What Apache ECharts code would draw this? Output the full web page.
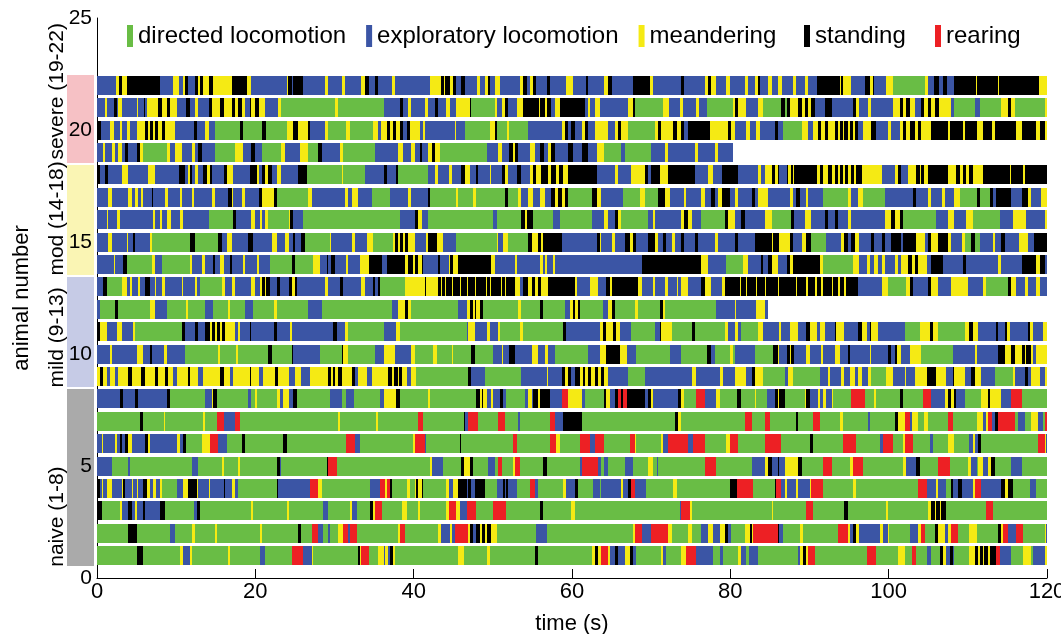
<!DOCTYPE html>
<html>
<head>
<meta charset="utf-8">
<title>Ethogram</title>
<script src="https://cdn.jsdelivr.net/npm/echarts@6/dist/echarts.min.js"></script>
<style>
  html, body { margin: 0; padding: 0; background: #fff; }
  #chart { width: 1061px; height: 634px; }
</style>
</head>
<body>
<div id="chart"></div>
<script>
// Behaviour categories, in legend order, with their one-letter codes used below.
const behaviours = ['directed locomotion', 'exploratory locomotion', 'meandering', 'standing', 'rearing'];
const behaviourCodes = ['g', 'b', 'y', 'k', 'r'];
const behaviourColors = ['#69bd45', '#3b55a5', '#f5ea14', '#000000', '#ed2024'];

// Each trial: "<code><start time in s>" tokens, closed by "e<end time>".
const naive = [
  // animal 1
  "g0 k5 g5.85 y10.5 b10.9 y11.75 g11.95 y16.6 g16.8 b20.6 g21.2 r24.6 b26.05 y27.1 g27.3 k33 y33.2 r33.4 g34.3 y35.5 b36.2 y36.4 b36.8 k37 y37.4 g37.6 y45.6 g46.3 y49.2 g49.6 k55.3 g55.7 y62.5 k62.9 y63.3 r63.7 y64.6 b64.8 k65.4 b65.8 y66.7 k67.3 b67.7 g68.1 y71.3 b71.5 g71.9 y73.8 r74.45 b75.7 g77.8 b78.7 g79.1 y81 b81.3 g82 b82.3 g83.5 b88.6 y88.8 k89.2 y89.6 r89.8 g90.7 r97.2 g98.45 y101.2 g102 r102.9 g103.5 b104.8 g105.4 k106.45 y106.9 b107.3 k107.7 b108.1 g108.3 y110.2 k110.9 y111.3 k111.5 y111.9 k112.1 y112.6 k112.8 r113.6 b114 g115.5 y117 g118 b118.2 y119.7 e120",
  // animal 2
  "g0 k3.95 g5 b9.2 g9.85 y11.95 g12.4 y14.9 g15.1 y20.6 g20.8 k25.4 g25.8 r27.1 b27.95 g28.6 b29.2 g29.4 y30.5 r31.1 b31.7 r31.95 g32.8 y38.05 r38.3 g38.9 y43.1 b43.5 y44.6 b44.8 r45.2 y46.9 k47.1 b47.5 k47.9 y48.4 k48.6 y49 k49.2 y49.8 g50.5 b55.5 g56.8 y67.7 r67.9 b68.8 r70 y72.1 g72.6 y74.7 g75.1 b76.35 y77.2 b77.8 y78.7 k79.3 b79.7 g80.1 y81.8 k82.45 y82.7 r82.9 k86 b86.2 g86.7 y88.8 g89.2 r93.6 y94.9 b95.1 k95.5 y95.9 b96.3 y98.9 b99.3 y99.9 g100.1 b102.7 y103.7 r104.1 g104.6 k105.8 y106.2 b107.1 y107.5 r107.9 g108.8 y110.2 g111.1 k113.8 y114.2 r114.4 b115.1 r116.1 g117 y119.7 b119.85 e120",
  // animal 3
  "k0 g0.6 y2.9 b3.1 k3.95 b4.4 y4.8 b5 k5.85 b6.1 k7.95 g8.6 b12.2 k12.6 g13 y19.5 g19.7 y23.95 g24.2 b28.6 g29.2 y31.95 b32.2 g32.8 k34.5 y34.9 r35.1 g35.95 y38.5 g39.1 y40.6 g40.8 y44.1 r44.4 y45.4 b45.8 r46.7 g47.9 r50 g51.7 k55.9 g56.35 y59.9 g60.35 b73.6 r73.8 y74.9 g75.1 y85.2 g85.4 r89.6 g90.45 k94.4 g94.9 y99.7 g99.9 y105 k105.4 y105.8 k106 y106.45 k106.65 g107.3 r112.3 g113.2 e120",
  // animal 4
  "k0 b0.4 y0.6 b0.8 y1.2 b1.85 y3.1 k3.3 b3.5 y4.4 b4.6 y5 b5.2 k5.85 y6.3 b6.7 y7.1 b7.5 y7.95 g8.2 b10.1 y10.9 k11.5 y12.6 b12.8 y14.1 b14.3 k16 b16.2 y17 b17.4 g17.85 k22.7 b22.9 r26.9 y27.95 g28.4 b34.5 r35.7 y36.4 r36.6 k37 g37.2 y39.1 g39.5 y40.2 k40.35 y40.6 k41 g41.2 y44.1 b44.4 y45 k45.6 b46.7 k46.9 b47.3 k47.7 g49 b50.5 k51.3 b51.5 k51.7 b51.9 g53 r54.7 b55.3 g55.7 y58.9 b59.3 k60.35 g60.8 b62.7 g63.5 b63.7 y66.2 b66.45 k67.1 r67.5 b67.9 g69.4 y72.8 g73.2 k79.9 r80.8 g82.9 k85.6 r85.8 b86.45 y86.9 b87.1 y88.3 b88.6 y90 r90.2 g91.7 y95.5 g95.9 r103.7 b104.8 y106 b106.2 g107.3 k107.9 b108.1 k108.8 b109.2 y110.65 r110.9 b111.7 k114.2 y114.65 k115.1 g115.7 b117.8 g118.65 e120",
  // animal 5
  "b0 g1.85 b3.95 g4.2 b11.95 g12.8 y15.75 g16 y17.85 g18.1 k22.7 b23.1 g23.3 k29 r29.2 g30.3 y42 b42.3 g43.7 k46 y46.3 k47.1 g47.5 b49.4 g50.3 r50.7 g51.1 y52.6 r52.8 g53.4 k56.35 g56.8 b61 r61.2 b63.3 g63.7 b64.1 g64.6 b66.7 g67.7 y69.6 g70.2 b70.7 g70.9 r76.8 g78.2 b82.7 y84.35 k84.8 b85.2 k86 b86.2 y86.9 k88.6 g89 r91.7 g92.8 y95.1 r95.5 g96.8 y101.8 b102.2 k103.5 g103.9 r106.2 g107.7 y110 b110.4 g111.1 y111.3 b111.9 y112.55 k112.9 g113.4 b115.5 g116.8 e120",
  // animal 6
  "b0 y0.6 b0.8 y2.3 b2.5 k2.9 b3.1 k3.5 y3.95 b4.4 k6.1 y6.5 b6.7 y10.1 b10.5 k10.9 g11.3 y13.2 r14.3 b15.3 g16.4 k18.3 g18.7 k23.5 g23.95 r31.5 b32.6 g33.2 y39.95 r40.2 b41.4 g41.6 k45.8 g46 r52.6 g53 r57.2 y58 g58.5 r61 b62.25 r62.9 g64.1 r67.3 y67.9 g68.1 y71.3 b71.5 r72.1 b74.7 r75.3 g76.8 y79.5 r79.9 g81 r84.35 g86.45 k90 g90.45 r94.2 g95.9 b98.9 r99.3 g100.6 y101.8 r102 g103.1 b105.2 g105.6 y107.5 g108.3 b110.2 y110.65 b110.9 k111.3 g111.7 r118.9 y119.7 b119.85 e120",
  // animal 7
  "g0 k5.4 g5.85 y8.4 g8.6 y13.4 g13.6 r15.1 b16 r17.4 g18.1 y30.5 g30.7 y35.3 g35.5 r40.6 g41.2 k46.3 b46.5 r46.9 g48.15 r50.7 g51.5 b53.2 g53.4 r57.2 b57.8 k58.9 g61.2 k73 y73.4 g73.8 r81.8 g82.7 r84.4 g85 k88.3 g88.6 r90.45 g91.3 y93.8 g94.2 b97.4 g97.6 k100.8 y101.2 r102 b102.65 y102.9 g103.7 y104.4 g105 r107.5 g108.1 y111.1 b111.9 y112.3 r112.55 b113 k113.4 r113.8 g115.9 b116.3 g117.2 y118 b118.9 g119.5 r119.8 e120",
  // animal 8
  "b0 k2.9 b3.3 k4.8 b5.2 k8.8 g9.2 b13.6 y14.5 k14.7 g15.1 b19.1 g19.5 y19.95 g20.2 y22.7 b23.1 y23.5 b24.2 k24.8 g25.2 b29.4 g30.9 b31.4 g32.4 b35.7 y36.2 k37.8 g38.3 y41.8 g42 k47.9 y48.4 k48.6 y48.8 b49.2 y49.8 b50 k50.9 b51.3 g51.7 b54 y54.5 b54.9 k55.1 y55.7 k55.9 b57.2 r58.7 y59.5 b61.2 g61.6 k64.1 y64.35 b64.8 k65.4 r65.8 k66.2 r66.45 k66.9 b69.2 k69.6 y70 b70.2 k73.4 y73.8 g74.2 r75.7 b76.8 y78.2 g78.7 k80.8 g81.4 y83.1 g83.3 b84.6 k85.6 y86 k86.2 g86.9 y89.4 k89.6 b90 y91.1 b91.3 y91.7 b92.1 y92.8 g93 r95.3 g97 y98.2 g98.4 k101.4 g101.8 r104.3 b105.4 y107.1 k107.5 y107.9 k108.3 b108.5 g109.6 y111.7 k112.5 y112.8 b114.2 r115.5 g116.8 e120"
];

const mild = [
  // animal 9
  "y0 k0.4 y0.8 b1.2 y1.6 b2.3 y2.7 k3.95 y4.4 k5.6 y6.1 k7.3 y7.75 k8.6 y9 b9.6 y10.1 k11.5 y11.75 b12.8 y13.4 k15.5 y16 b16.8 y17.2 k19.3 y19.5 b20.4 y21 k22.5 y22.9 b24.2 y25 b25.8 y26.9 k29.2 y29.5 k29.8 y30.1 k30.4 y30.9 k32.2 b32.6 y33 b34.05 y34.7 k36.8 y37.3 k37.5 y38 k38.2 y38.5 b39.1 y39.7 g40.35 k46.9 b47.3 g49 b53.6 y56.8 b57 k58.7 y59.1 k59.5 b59.9 k60.35 y61 k61.4 y61.6 k62 y62.45 k62.9 y63.3 k63.7 y64.1 b64.6 g67.1 b69.2 y75.1 b75.7 y78.7 b79.1 y80.6 b82 k82.7 y83.1 g84.1 b86.9 y87.3 g87.9 b91.3 y92.3 b92.6 y94 b94.4 y95.1 b95.7 y96.1 b96.6 y97.4 g97.8 y99.7 b100.6 y102 b102.2 y103.3 k104.8 y106 b107.3 k108.1 y108.3 b109.6 k110.4 y110.9 b111.7 g113.4 y115.7 b115.9 k117.2 b117.6 y118 b119.1 y119.7 e120",
  // animal 10
  "b0 y1.6 b1.85 y5 b5.85 k6.7 b6.9 y8.4 b8.8 g11.1 y15.3 g15.5 y17.6 g17.85 k21.6 g22.1 k24.6 b24.8 g28.2 k30.9 y31.1 g31.7 b35.1 y36.2 b37.6 y39.7 g40.2 y42.5 g42.9 y44.8 g45 k47.3 g47.7 b50 y51.1 b51.3 k52.1 b52.8 y54.9 b55.7 y56.6 b57 g57.8 b62 y63.5 k64.35 y66 b66.9 g68.1 b72.35 g73.8 k77 b77.6 g78 y79.9 g80.3 b80.6 g83.1 k85.4 y86 b86.2 k87.1 y87.5 k87.7 b88.1 y89.6 b90 y91.5 b91.7 y93.2 b93.8 k94.9 b95.1 y97.6 b97.8 k99.9 b100.3 k100.8 y101 b101.6 y102.7 g104.1 b108.1 y110.9 b111.1 k113.8 y114.65 k115.5 y115.9 k116.8 y117.2 k117.4 y118 b118.2 y118.65 e120",
  // animal 11
  "k0 y0.4 b1.2 y2.5 b3.1 y4.6 g4.8 k10.7 b11.1 k12.4 b12.8 k13.6 y14.3 k14.5 y14.9 k15.1 y15.5 k15.75 y16.2 b17.4 y17.85 b18.1 k19.3 b19.5 k22.3 b22.7 y24.4 b24.6 k29.8 b30.3 y31.3 g31.7 b36.2 y37.8 g38.3 b46.7 y46.9 b47.7 y49.2 b49.6 y50.7 g50.9 y53.4 g53.8 k58.9 b59.3 y63.5 k63.9 y64.35 k65.2 y65.6 b66 g67.5 b70.45 k71.1 y71.3 g72.6 k75.1 g75.5 y79.3 b79.7 y80.6 b81 g81.4 y83.5 b84.1 y86.2 b86.45 y87.5 b88.6 k89.6 y90 b90.9 y91.3 b91.9 k93.2 y93.4 b94.4 k96.1 y96.6 b97.2 k97.6 y97.8 b98.7 g102 y103.9 k105.2 y105.6 g106.2 y109.6 k110.2 y110.65 b111.3 k113.6 b113.8 k114.7 y114.9 b115.3 k117.6 y117.8 b118.2 y119.5 e120",
  // animal 12
  "b0 g0.4 k2.3 g2.7 y6.7 b7.3 g8.8 y11.3 g11.5 b13.6 g14.7 y16.6 g16.8 b18.7 g19.7 y22.3 g22.7 b26.7 g28.4 b37.2 y38 k38.9 y39.3 g39.7 b45.6 y46.7 k47.1 y47.5 k47.7 y47.9 k48.4 g48.8 y53.2 g53.6 k55.9 g56.35 b59.1 y59.7 k60.1 y60.35 k60.8 g61 b63.9 y64.6 k65 g65.4 y67.9 g68.35 k71.1 y71.5 g71.7 b78.2 y80.55 b80.7 y83.3 b84.35 e84.8",
  // animal 13
  "b0 k0.8 g1.2 y3.1 b3.75 y4.2 b4.4 y5.2 b5.4 k6.1 b6.7 y7.3 b7.5 y8.2 b8.6 y10.7 b10.9 y12.4 b12.6 g13 y15.75 b16.2 y17 b17.4 y19.5 b19.95 y20.6 k20.8 y21.2 k21.4 b21.85 k22.7 b23.1 k24.2 y24.6 k25 b25.2 y28.8 b29.2 k30.7 b31.1 y33.4 b33.8 k34.9 b35.1 k35.5 g35.7 y38.9 k41.4 y41.6 k43.1 y43.45 k43.6 y43.9 k44.05 y44.4 k44.5 y44.85 k45 y45.3 k45.4 y45.8 k45.95 y46.3 k46.4 y46.75 k46.9 y47.2 k47.3 y47.7 k47.85 y48.2 k48.3 y48.7 k48.8 y49.15 k49.3 y49.6 k49.75 y50.1 k50.2 y50.6 k50.7 y51.05 k51.2 y51.5 k51.65 y52 k52.1 y52.8 b53.4 k53.8 y54.5 k54.9 y55.3 k55.7 y56.1 k57 y60.35 b60.6 y62.25 b63.3 k64.35 y64.8 k65 y68.35 b68.8 y70.2 b70.45 y71.7 b72.1 y73.2 b73.4 y73.8 b74.7 k76.35 y76.8 b77.6 y78.9 k79.3 y81.2 k81.3 y82 k82.1 y83.3 k83.4 y83.7 k83.8 y84.4 k84.5 y86 k86.1 y88.3 k88.4 y89.6 k89.8 y90.7 k90.9 y91.5 k91.7 y92.8 k93 y93.6 k93.8 y94.4 k94.6 b96.1 y99.1 g99.9 y102.2 k102.7 b103.1 k105 y105.4 b106.2 y107.9 b110 y111.9 g112.3 k115.1 y115.5 b116.1 y117.2 b117.6 y118.6 b119.1 e120"
];

const moderate = [
  // animal 14
  "b0 y2.1 b2.3 k3.3 g3.75 y6.9 b7.3 g8.2 y11.75 b11.95 y13.2 b13.6 k14.7 b14.9 y15.5 b16 k16.8 b17 y18.5 b18.7 y20.2 b20.4 g21.85 k24.6 g25 y27.3 b28.2 k29 b29.2 k29.6 b30.05 y31.5 b31.7 y33.2 k34.3 b35.95 k36.6 y38.9 k39.3 y39.95 k40.2 y40.6 k41 b41.2 k43.1 b43.3 y44.4 k44.6 y45 k45.6 y49.8 b50.3 y52.8 b53 y55.9 b56.35 y56.6 b56.8 y57.6 b57.8 k68.8 y76.35 b77.2 g79.5 y81.6 b82.2 k83.9 b84.1 k84.8 y85.2 b86 k87.1 y87.5 k87.9 y91.3 g91.7 y95.5 b96.3 y97.2 b97.6 y98.2 b98.7 y99.1 b99.5 y100.8 b101.2 y101.6 k102.5 y103 k103.3 y103.7 b104.8 k105.4 b106.9 k109.4 b109.8 y113.8 b114.2 k116.8 y118.6 k119.1 b119.7 e120",
  // animal 15
  "b0 y1.4 b1.85 y3.75 b3.95 k4.6 b4.8 y6.7 g6.9 k11.75 g12.4 k15.3 b15.75 y16.4 b17 k19.1 b19.7 y22.1 b22.7 y23.7 b24.2 k24.8 b25 k25.8 g26.3 y29.4 b29.6 y32.2 b32.6 y34.05 g34.9 y37.4 k37.6 y38 k38.3 y38.7 k38.9 y39.3 b40.2 y41.6 k41.8 y42.9 b43.7 g45.4 y50.5 b50.7 y51.3 g51.9 k54.5 y54.9 k55.7 y56.1 k56.35 b58.7 k63.1 y63.5 b63.7 y65 b65.4 k66.7 y67.3 k67.7 b68.1 k69.6 y70.45 b70.9 k71.5 b71.9 y72.6 b73 k73.8 b74.2 k75.5 b75.9 y78 b78.45 k80.6 b81 k83.1 y85.2 k85.4 y86.2 k87.5 b87.9 y89 k89.6 g90.2 b92.1 y94 k94.4 b94.9 k95.3 y95.7 b96.3 k97.8 b98.2 k99.1 b99.5 k100.3 b101.6 k101.8 y103.5 b104.6 k105 y105.4 k106.2 y107.5 b107.9 y109.2 g109.6 k110.4 g110.9 b111.5 y113.2 b113.4 k114.2 b114.7 y116.5 b117.6 k118.4 e120",
  // animal 16
  "b0 y1.2 b1.4 y2.5 b2.9 y7.1 b7.3 y7.95 b8.2 y8.8 b9.4 y10.5 b10.9 g14.1 k17.2 b17.6 y19.5 b19.95 y20.6 b20.8 y21.2 g21.6 y24.2 k24.4 b24.8 g26.05 b38.3 k40.2 y40.6 b41 g41.8 b50 g50.5 k53.6 y54 k54.3 g55.1 b57.6 g58.5 b62.5 y64.1 b64.6 k65.4 y65.8 g66.2 b69.6 y70.2 b70.45 y73.8 k74.2 y74.7 b75.1 g76.35 k79.3 y79.7 b80.6 k81.4 b81.8 y84.4 g85.2 k87.7 b88.1 y89.4 b90.2 k91.9 b92.3 k93.2 b93.6 y94.9 b95.3 y99.5 k100.3 y100.8 k101.4 g101.8 b106 y107.5 b108.3 y109.8 g110.7 b114 y115.7 b117.4 y119.7 e120",
  // animal 17
  "b0 y1.4 b1.85 y3.95 b4.4 y4.8 b5.2 y5.6 b5.85 k6.9 b7.1 y8.6 b9 y10.5 b10.7 y11.95 b12.2 y14.5 b14.9 k16.6 y17 b17.2 y18.3 b18.7 k20.4 y20.8 k22.3 g22.7 y26.7 b27.1 y31.3 b31.7 y32.2 b33 g34.7 b37 y39.3 b39.7 k41.8 g42 y45.4 g45.6 y47.5 g47.9 k51.5 g51.9 y53.2 b53.6 y54.5 b55.1 y55.9 b56.6 k57.4 y57.8 k58.25 y58.7 k59.1 g59.5 k62.5 y63.1 b63.7 g66.45 y68.6 g69.2 k70.9 y71.7 b72.35 y74.2 b74.45 y76.35 b76.8 k77.6 b78 y78.45 k78.9 b79.9 y80.6 b81 k82.7 b83.1 y83.5 b84.8 y87.5 b87.9 k88.3 b88.8 y89.6 b89.8 g91.7 y94.9 b95.3 y96.1 g96.8 b99.5 k103.1 b103.5 y105 b105.4 y106.7 b107.1 y108.3 g109 k111.1 g111.5 k112.8 b113.2 k113.6 b115.5 k116.8 y117.6 b118 y119.3 e120",
  // animal 18
  "k0 b0.4 k1 b1.4 y3.1 b3.95 y6.5 b7.3 k10.3 b11.1 y11.5 k11.75 b11.95 y12.4 b12.8 k13.4 y13.85 k14.3 b14.5 k16 y16.4 b17.2 k19.3 y20.2 b20.4 k20.8 y21.2 k21.6 b22.1 y22.7 b23.3 k25.4 g26.5 y30.9 g31.1 b33.8 k36.2 b36.6 k37.8 g38 b41.8 y42.7 b43.1 y44.4 b44.8 k46 y46.5 b47.1 k47.9 b48.1 y49.6 b49.8 k51.1 y51.5 b51.9 k53 b53.6 y54.7 k55.1 y55.5 k56.1 y57 k57.4 y58 k58.3 y58.8 k59.5 b63.1 y65.4 b65.8 y67.5 k69.2 b69.6 k70 y71.1 k72.1 b75.5 y77.2 b77.8 k78.9 b81 y83.5 b83.9 y84.4 k85.2 y85.6 k86 b86.2 k87.1 y87.3 k87.7 y87.9 k88.1 y90.9 k91.3 y91.7 k92.3 y92.8 k93.2 y93.6 k93.8 y94.2 k94.5 y94.9 k95.3 y95.6 k95.9 y96.6 b99.1 y100.8 k101.2 b101.6 y102.4 k103.5 y103.9 k104.1 y104.5 k105 y107.5 k108.5 y109 k109.4 y109.8 k110.2 y110.7 k111.9 y115.3 k115.5 y117 k117.2 e120"
];

const severe = [
  // animal 19
  "b0 y0.8 b1 y1.85 b2.3 y2.7 b3.1 k3.5 b3.95 k5 y5.4 g5.85 y8.8 b9.2 y9.85 b10.7 y11.95 b12.4 k12.8 b13.2 g14.9 y17.4 b18.5 k19.5 b19.95 g20.8 y23.3 b23.7 y25.6 g26.7 k27.95 b28.4 y30.7 g31.1 b35.1 y38 b38.7 y39.7 b40.2 k40.8 b41 y41.8 k42.3 y42.7 g43.3 b49.2 y50.7 b51.1 k52.1 y52.6 k52.8 b53.2 y54.7 b55.3 k55.9 b56.4 y57 k57.4 b57.8 k59.5 b60.1 k61.2 b62 y63.1 g64.1 b66.2 g66.7 b70 y71.7 b72.1 y75.5 b75.9 y78 b78.5 e80.3",
  // animal 20
  "k0 b0.5 y1.6 b2.1 y2.9 b3.1 y3.75 b4.2 y5 k6.1 y6.5 k6.7 y7.1 k7.3 y7.75 k8.2 y8.6 b9.85 k12.2 b12.6 y13.6 b14.1 g14.9 k18.1 g18.5 k20.8 g21.4 y24 k24.8 y25.4 k26.7 b26.9 y28.8 g29.2 y31.5 g31.95 y34.9 b35.5 y35.9 k36.6 y37 k37.4 y37.8 k38.3 b38.7 k39.1 y39.5 b40.8 y41.2 b41.4 y45.2 b45.4 g46.5 y49.6 k50.3 g50.5 y51.8 g52 b54.5 y58.7 k59.1 b59.5 k59.9 b60.4 y61.2 k61.6 b62 y62.9 b64.6 y65.4 k65.8 y66.2 g67.1 y70.45 k70.9 y71.3 k72.8 y73.2 k73.8 b74.2 k74.7 y77.4 k79.7 y80.1 b80.6 y82 b82.5 y83.3 b83.7 k85.6 b86 g86.7 y89 b89.8 y90.5 k91.1 y91.5 k91.9 y92.3 k93.2 y93.6 k93.8 y94.2 k94.4 y94.9 k95.1 y95.5 k95.7 b96.1 y96.8 k97.8 b98.4 y99.9 b100.3 y101.4 k101.8 y102.2 k102.7 y103.3 k103.7 y104.1 k105.4 y107.5 k107.7 y109.4 k109.6 y111.1 k111.9 y113 k113.4 y116.1 k116.8 y118.6 k119.1 y119.7 e120",
  // animal 21
  "b0 y1 b1.2 k2.1 b2.5 y2.7 b3.1 y5 b5.2 k5.9 b6.1 y6.3 k7.75 y8.2 k8.8 y9.2 b10.1 k11.3 b11.7 y12.4 b12.8 k14.1 y14.5 k15.5 y16 k17 y17.4 k17.85 y18.3 b18.7 k19.3 y19.5 k19.95 y20.4 b21.2 y22.9 g23.3 y30 g30.5 b36.2 k38.3 b38.7 y39.3 b39.7 y41.4 b41.8 k42.7 b43.1 y44.1 b44.6 y45.4 k47.1 g47.3 y50.3 b50.5 y51.1 k51.5 b51.9 y53 k53.8 y55.8 k56 y56.6 k56.8 b57.4 y57.8 k58.5 b61.6 y62 b62.3 y62.9 b63.5 y67.1 k67.7 g67.9 y71.5 b72.3 y73.6 b74 y75.7 b76.1 g77 y80.3 k80.6 y81 b82 y83.5 g84.1 k86.4 g86.9 k87.1 y87.5 k88.6 y89 k89.4 y89.8 k90.2 b90.7 k91.9 b92.8 k95.5 y95.9 b96.3 y97.4 b97.8 y100.5 k101.4 y101.8 k102.2 y102.7 b103.3 k104.1 y104.5 k105 y105.4 k105.8 y106.4 b107.9 g108.3 b110.9 g111.5 y114.2 k115.1 y115.5 g115.9 y119.7 e120",
  // animal 22
  "b0 y2.4 k2.8 y3.1 k3.75 b8 y9.6 b10.3 y10.9 k11.1 b11.5 k12.4 y12.8 k13 y13.4 k14.1 y14.7 k17 y18.9 b19.5 y24 k24.1 b24.6 k24.8 b26 y28.8 b29.2 y30.9 b31.3 y33.4 k33.8 b34.3 k35.1 b35.5 y37.2 b37.6 y42 k43.5 y43.8 k44 y44.6 k45 b45.4 k46 b46.5 y48 b48.4 y49 k49.4 b49.6 y50.3 b50.9 y53.4 k53.8 b54.3 y54.7 k55.1 b55.5 k56.8 b57.2 y59.3 b60.1 k61.8 b62 y64.1 k64.6 b65 k67.7 y69.8 b70.2 k73.8 b74.2 y76.8 k77.2 y77.6 b78.2 y79.5 b79.9 y81.8 b82.2 y83.1 k83.5 b83.7 y84.8 b85.2 y86 b86.5 y87.9 b88.3 y89.4 b89.8 k90.9 y93.9 k94 y94.2 b95.3 k97 y97.6 k98 b98.2 y99.7 g100.6 y104.6 b105 k105.7 b106.4 k106.9 b107.4 k108.2 y111 k111.2 y113.8 k113.9 y119 e120"
];

// Group labels and the animal numbers they cover.
const groupNames = ['naive (1-8)', 'mild (9-13)', 'mod (14-18)', 'severe (19-22)'];
const groupFirstAnimal = [1, 9, 14, 19];
const groupLastAnimal = [8, 13, 18, 22];
const groupColors = ['#aaaaaa', '#c6cbe6', '#faf5b4', '#f6c1c5'];

// ---- build segments ------------------------------------------------------
const trials = [].concat(naive, mild, moderate, severe);
const seriesData = behaviours.map(() => []);
trials.forEach((str, i) => {
  const animal = i + 1;
  const toks = str.trim().split(/\s+/);
  for (let j = 0; j < toks.length - 1; j++) {
    const code = toks[j][0];
    const t0 = parseFloat(toks[j].slice(1));
    const t1 = parseFloat(toks[j + 1].slice(1));
    const idx = behaviourCodes.indexOf(code);
    if (idx >= 0 && t1 > t0) seriesData[idx].push([t0, t1, animal]);
  }
});

const BAR_H = 0.84;
// One bout = one rectangle; edges snapped to whole pixels so neighbouring bouts meet without seams.
function renderSegment(params, api) {
  const a = api.coord([api.value(0), api.value(2)]);
  const b = api.coord([api.value(1), api.value(2)]);
  const h = api.size([0, BAR_H])[1];
  const x0 = Math.round(a[0]);
  const x1 = Math.max(Math.round(b[0]), x0 + 1);
  const y0 = Math.round(a[1] - h / 2);
  return {
    type: 'rect',
    shape: { x: x0, y: y0, width: x1 - x0, height: Math.round(h) },
    style: { fill: api.visual('color') }
  };
}

const FONT = '"Liberation Sans", Arial, Helvetica, sans-serif';
const chart = echarts.init(document.getElementById('chart'), null, { renderer: 'canvas' });

// Legend entries are split in three groups so their spacing can follow the layout.
function legendBlock(names, left) {
  return {
    data: names,
    top: 19,
    left: left,
    icon: 'rect',
    itemWidth: 6,
    itemHeight: 22,
    itemGap: 20,
    textStyle: { fontSize: 24, color: '#000', fontFamily: FONT },
    selectedMode: false
  };
}

const option = {
  animation: false,
  backgroundColor: '#ffffff',
  textStyle: { fontFamily: FONT, color: '#000' },
  grid: { left: 97, right: 14, top: 18, bottom: 56, outerBoundsMode: 'none', containLabel: false },
  legend: [
    legendBlock(behaviours.slice(0, 3), 122),
    legendBlock([behaviours[3]], 799),
    legendBlock([behaviours[4]], 930)
  ],
  xAxis: {
    type: 'value',
    min: 0, max: 120, interval: 20,
    name: 'time (s)',
    nameLocation: 'middle',
    nameGap: 35,
    nameTextStyle: { fontSize: 22, color: '#000', fontFamily: FONT },
    axisLine: { show: true, lineStyle: { color: '#000', width: 1 } },
    axisTick: { show: true, inside: true, length: 9, lineStyle: { color: '#000' } },
    axisLabel: { fontSize: 22, color: '#000', margin: 3, fontFamily: FONT },
    splitLine: { show: false }
  },
  yAxis: {
    type: 'value',
    min: 0, max: 25, interval: 5,
    name: 'animal number',
    nameLocation: 'middle',
    nameRotate: 90,
    nameGap: 64,
    nameTextStyle: { fontSize: 22, color: '#000', fontFamily: FONT },
    axisLine: { show: true, onZero: false, lineStyle: { color: '#000', width: 1 } },
    axisTick: { show: false },
    axisLabel: { fontSize: 21, color: '#000', margin: 5, fontFamily: FONT },
    splitLine: { show: false }
  },
  series: behaviours.map((name, i) => ({
    name: name,
    type: 'custom',
    renderItem: renderSegment,
    encode: { x: [0, 1], y: 2 },
    itemStyle: { color: behaviourColors[i] },
    data: seriesData[i],
    z: 2
  }))
};
chart.setOption(option);

// Group bands behind the y tick labels, placed through the y axis scale;
// each group name reads upward from the bottom of its band.
function drawGroups() {
  const elements = [];
  groupNames.forEach((name, i) => {
    const yTop = chart.convertToPixel({ yAxisIndex: 0 }, groupLastAnimal[i] + 0.5);
    const yBot = chart.convertToPixel({ yAxisIndex: 0 }, groupFirstAnimal[i] - 0.5);
    elements.push({
      type: 'rect',
      z: -1,
      shape: { x: 67, y: Math.round(yTop) + 1, width: 27, height: Math.round(yBot - yTop) - 2 },
      style: { fill: groupColors[i] }
    });
    elements.push({
      type: 'text',
      z: 5,
      x: 57,
      y: yBot - (i === 3 ? 4 : 0),
      rotation: Math.PI / 2,
      style: {
        text: name,
        font: '21px ' + FONT,
        fill: '#000',
        align: 'left',
        verticalAlign: 'middle'
      }
    });
  });
  chart.setOption({ graphic: elements });
}
drawGroups();
</script>
</body>
</html>
